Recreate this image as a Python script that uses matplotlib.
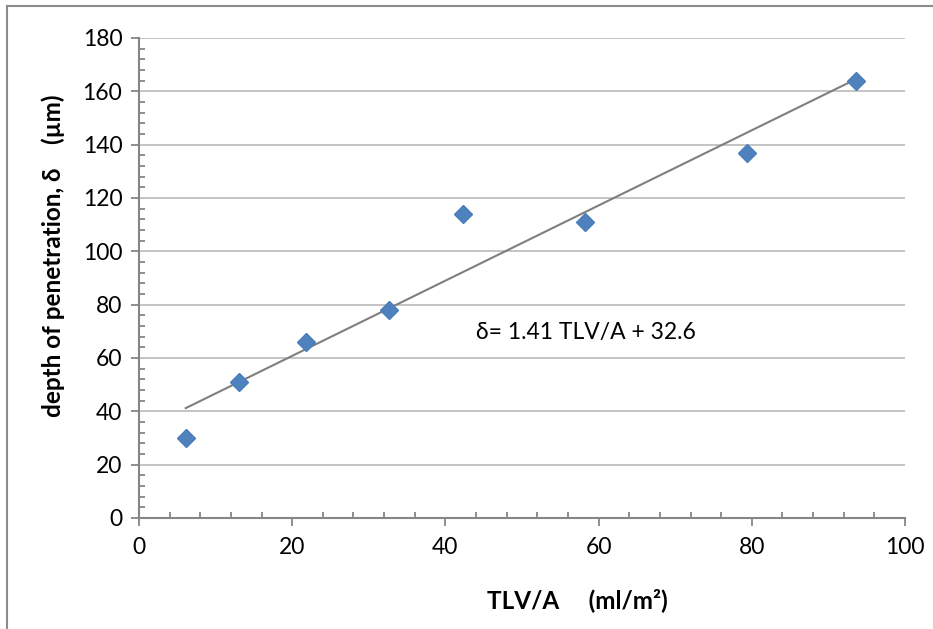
import matplotlib
matplotlib.use("Agg")
import matplotlib.pyplot as plt
from matplotlib.ticker import MultipleLocator
from matplotlib.lines import Line2D

plt.rcParams['font.family'] = ['Lato', 'DejaVu Sans']

# data
tlv_a = [6.1, 13.0, 21.8, 32.6, 42.3, 58.2, 79.4, 93.6]
depth = [30.0, 51.0, 66.0, 78.0, 114.0, 111.0, 137.0, 164.0]
slope = 1.41
intercept = 32.6
x_ticks = [0, 20, 40, 60, 80, 100]
y_ticks = [0, 20, 40, 60, 80, 100, 120, 140, 160, 180]
equation = "\u03b4= 1.41 TLV/A + 32.6"
xlabel = "TLV/A     (ml/m\u00b2)"
ylabel = "depth of penetration, \u03b4    (\u00b5m)"

W, H = 933, 629
fig = plt.figure(figsize=(W / 100, H / 100), dpi=100)
ax = fig.add_axes([139 / W, (H - 518) / H, (905 - 139) / W, (518 - 38) / H])

axis_col = '#868686'
grid_col = '#BFBFBF'

ax.set_xlim(0, 100)
ax.set_ylim(0, 180)
ax.set_xticks(x_ticks)
ax.set_yticks(y_ticks)
ax.xaxis.set_minor_locator(MultipleLocator(4))
ax.yaxis.set_minor_locator(MultipleLocator(4))
ax.grid(axis='y', which='major', color=grid_col, linewidth=1.3)
ax.set_axisbelow(True)

for s in ['top', 'right']:
    ax.spines[s].set_visible(False)
for s in ['left', 'bottom']:
    ax.spines[s].set_color(axis_col)
    ax.spines[s].set_linewidth(1.5)

ax.tick_params(which='major', direction='out', length=6, width=1.3, color=axis_col,
               labelsize=16.5, labelcolor='black')
ax.tick_params(which='minor', direction='in', length=4, width=1.3, color=axis_col)
ax.tick_params(axis='x', which='major', pad=8)
ax.tick_params(axis='y', which='major', pad=6)

# trendline
x0, x1 = min(tlv_a), max(tlv_a)
ax.plot([x0, x1], [slope * x0 + intercept, slope * x1 + intercept],
        color='#7F7F7F', linewidth=1.5, zorder=2)

ax.plot(tlv_a, depth, linestyle='none', marker='D', markersize=9.5,
        markerfacecolor='#4F81BD', markeredgecolor='#4A7EBB', zorder=3)

ax.text(44.0, 69.5, equation, fontsize=16.5, ha='left', va='center')

fig.text(577 / W, 1 - 600 / H, xlabel, fontsize=17.5, fontweight='bold',
         ha='center', va='center')
fig.text(53 / W, 1 - 256 / H, ylabel, fontsize=17.5, fontweight='bold',
         ha='center', va='center', rotation=90)

# outer chart border (left and top visible)
fig.add_artist(Line2D([7 / W, 7 / W], [0, 1 - 6 / H], transform=fig.transFigure,
                      color='#8C8C8C', linewidth=1.5))
fig.add_artist(Line2D([7 / W, 1], [1 - 6 / H, 1 - 6 / H], transform=fig.transFigure,
                      color='#8C8C8C', linewidth=1.5))

fig.savefig('out.png', dpi=100)
